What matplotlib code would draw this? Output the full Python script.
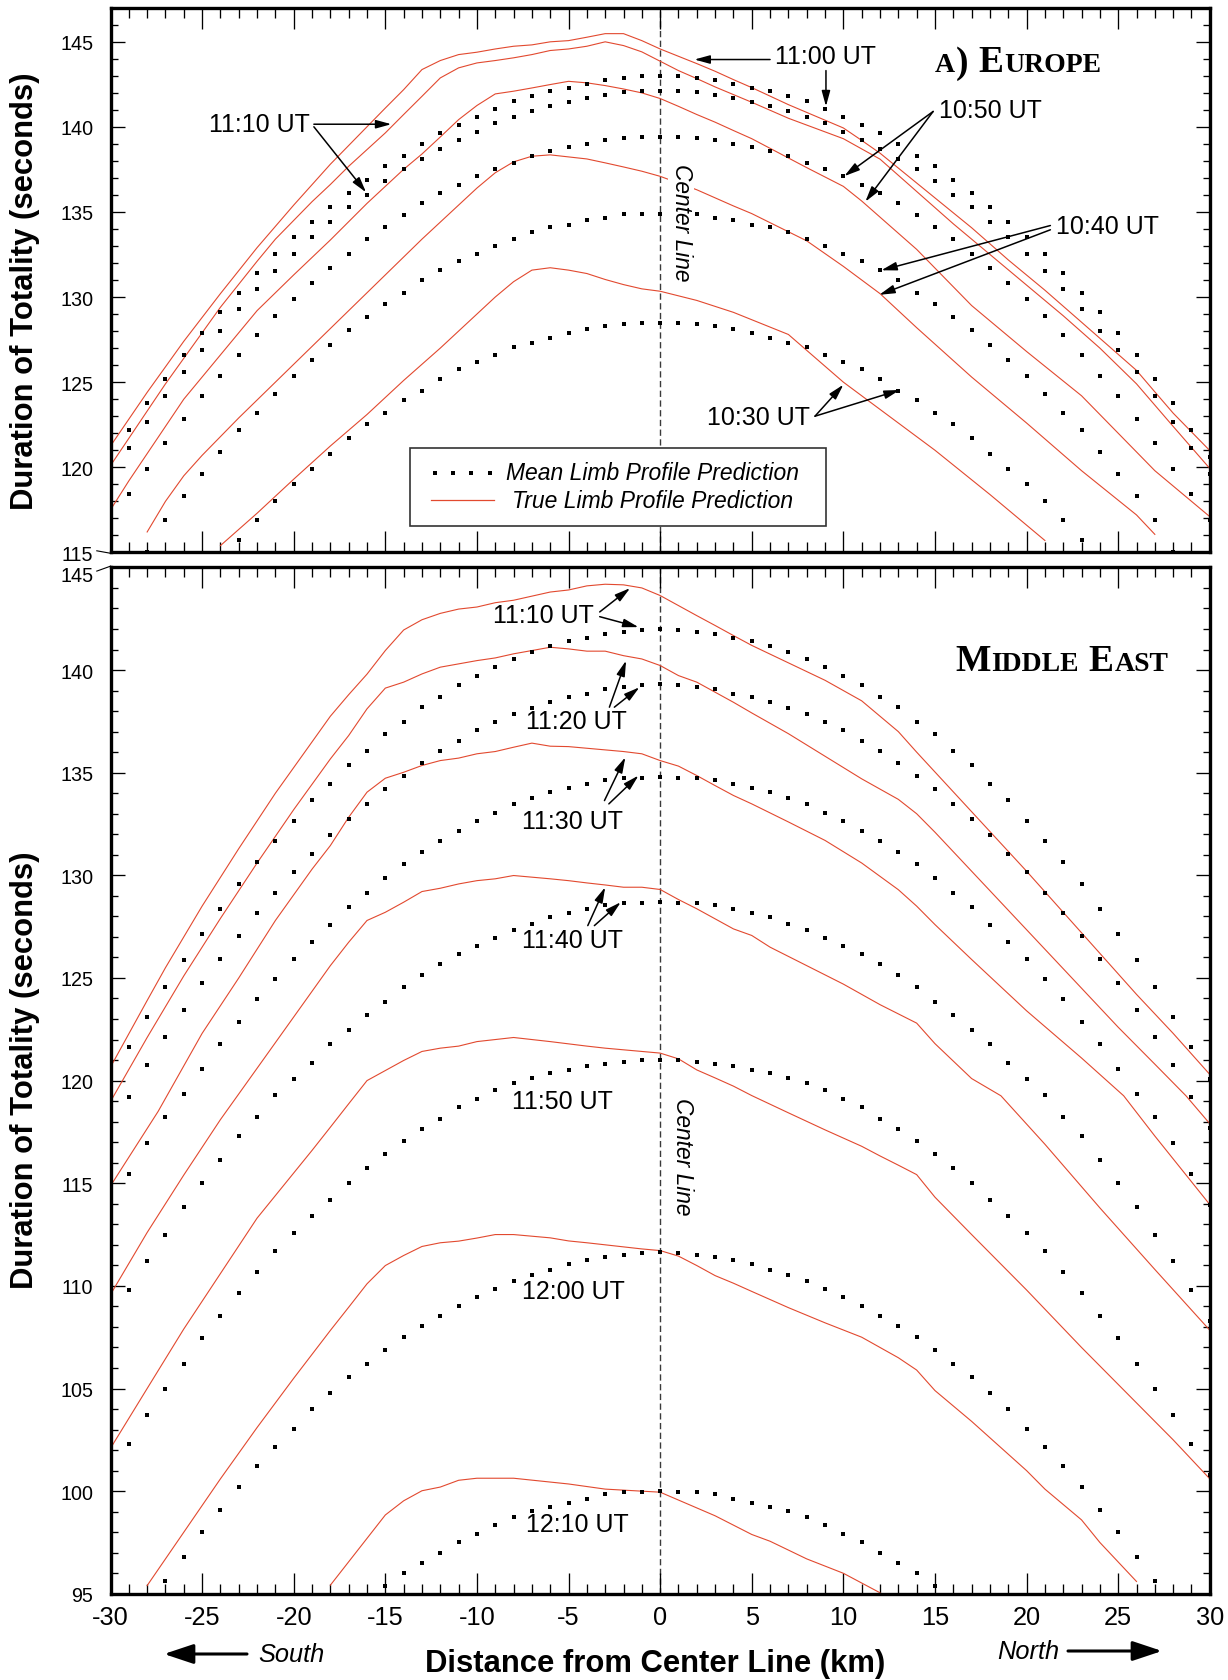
import matplotlib
matplotlib.use("Agg")
import matplotlib.pyplot as plt
import matplotlib.transforms as mtransforms
from matplotlib.ticker import MultipleLocator, FuncFormatter
from matplotlib.lines import Line2D
from matplotlib.patches import Rectangle, FancyArrowPatch

# ---------------------------------------------------------------- data
# Mean limb profile predictions (dots, one per km)
EU_1100_X = list(range(-30, 31))
EU_1100 = [120.6, 122.2, 123.8, 125.2, 126.6, 127.9, 129.1, 130.25, 131.4, 132.5,
           133.5, 134.4, 135.3, 136.1, 136.9, 137.7, 138.3, 139.0, 139.63, 140.12,
           140.6, 141.05, 141.5, 141.8, 142.1, 142.3, 142.5, 142.77, 142.87, 142.97,
           143.0,
           142.97, 142.87, 142.77, 142.5, 142.3, 142.1, 141.8, 141.5, 141.05, 140.6,
           140.12, 139.63, 139.0, 138.3, 137.7, 136.9, 136.1, 135.3, 134.4, 133.5,
           132.5, 131.4, 130.25, 129.1, 127.9, 126.6, 125.2, 123.8, 122.2, 120.6]
EU_1110_X = list(range(-30, 31))
EU_1110 = [119.6, 121.15, 122.65, 124.2, 125.6, 126.9, 128.0, 129.3, 130.5, 131.5,
           132.5, 133.5, 134.4, 135.3, 136.0, 136.8, 137.5, 138.1, 138.7, 139.2,
           139.7, 140.2, 140.6, 140.9, 141.2, 141.45, 141.7, 141.85, 142.05, 142.1,
           142.1,
           142.1, 142.05, 141.85, 141.7, 141.45, 141.2, 140.9, 140.6, 140.2, 139.7,
           139.2, 138.7, 138.1, 137.5, 136.8, 136.0, 135.3, 134.4, 133.5, 132.5,
           131.5, 130.5, 129.3, 128.0, 126.9, 125.6, 124.2, 122.65, 121.15, 119.6]
EU_1050_X = list(range(-30, 31))
EU_1050 = [116.9, 118.45, 119.9, 121.4, 122.85, 124.2, 125.35, 126.6, 127.75, 128.9,
           129.9, 130.8, 131.7, 132.55, 133.4, 134.1, 134.8, 135.5, 136.1, 136.6,
           137.1, 137.5, 137.9, 138.3, 138.6, 138.8, 139.0, 139.2, 139.35, 139.4,
           139.4,
           139.4, 139.35, 139.2, 139.0, 138.8, 138.6, 138.3, 137.9, 137.5, 137.1,
           136.6, 136.1, 135.5, 134.8, 134.1, 133.4, 132.55, 131.7, 130.8, 129.9,
           128.9, 127.75, 126.6, 125.35, 124.2, 122.85, 121.4, 119.9, 118.45, 116.9]
EU_1040_X = list(range(-28, 29))
EU_1040 = [115.05, 116.9, 118.3, 119.6, 120.9, 122.2, 123.2, 124.3, 125.35, 126.3,
           127.2, 128.05, 128.85, 129.6, 130.25, 131.0, 131.6, 132.1, 132.55, 133.0,
           133.4, 133.8, 134.1, 134.25, 134.5, 134.65, 134.85, 134.9,
           134.9,
           134.9, 134.85, 134.65, 134.5, 134.25, 134.1, 133.8, 133.4, 133.0, 132.55,
           132.1, 131.6, 131.0, 130.25, 129.6, 128.85, 128.05, 127.2, 126.3, 125.35,
           124.3, 123.2, 122.2, 120.9, 119.6, 118.3, 116.9, 115.05]
EU_1030_X = list(range(-23, 24))
EU_1030 = [115.7, 116.9, 118.0, 119.0, 119.9, 120.8, 121.7, 122.55, 123.2, 123.95,
           124.5, 125.2, 125.8, 126.2, 126.6, 127.05, 127.3, 127.6, 127.9, 128.15,
           128.3, 128.4, 128.45,
           128.5,
           128.45, 128.4, 128.3, 128.15, 127.9, 127.6, 127.3, 127.05, 126.6, 126.2,
           125.8, 125.2, 124.5, 123.95, 123.2, 122.55, 121.7, 120.8, 119.9, 119.0,
           118.0, 116.9, 115.7]

ME_1110_X = list(range(-30, 31))
ME_1110 = [120.1, 121.66, 123.12, 124.55, 125.89, 127.15, 128.36, 129.56, 130.66, 131.65,
           132.65, 133.69, 134.45, 135.39, 136.06, 136.9, 137.46, 138.19, 138.7, 139.27,
           139.7, 140.16, 140.56, 140.9, 141.19, 141.41, 141.57, 141.76, 141.86, 141.97,
           142.0,
           141.97, 141.86, 141.76, 141.57, 141.41, 141.19, 140.9, 140.56, 140.16, 139.7,
           139.27, 138.7, 138.19, 137.46, 136.9, 136.06, 135.39, 134.45, 133.69, 132.65,
           131.65, 130.66, 129.56, 128.36, 127.15, 125.89, 124.55, 123.12, 121.66, 120.1]
ME_1120_X = list(range(-30, 31))
ME_1120 = [117.7, 119.22, 120.75, 122.1, 123.44, 124.75, 125.91, 127.05, 128.15, 129.15,
           130.16, 131.04, 131.95, 132.75, 133.49, 134.19, 134.85, 135.45, 136.06, 136.55,
           137.1, 137.46, 137.86, 138.16, 138.46, 138.7, 138.84, 139.06, 139.18, 139.29,
           139.3,
           139.29, 139.18, 139.06, 138.84, 138.7, 138.46, 138.16, 137.86, 137.46, 137.1,
           136.55, 136.06, 135.45, 134.85, 134.19, 133.49, 132.75, 131.95, 131.04, 130.16,
           129.15, 128.15, 127.05, 125.91, 124.75, 123.44, 122.1, 120.75, 119.22, 117.7]
ME_1130_X = list(range(-30, 31))
ME_1130 = [113.95, 115.45, 116.95, 118.25, 119.35, 120.56, 121.76, 122.85, 123.96, 124.95,
           125.91, 126.75, 127.6, 128.45, 129.15, 129.86, 130.55, 131.15, 131.65, 132.16,
           132.65, 133.06, 133.46, 133.79, 134.06, 134.26, 134.44, 134.65, 134.74, 134.76,
           134.77,
           134.76, 134.74, 134.65, 134.44, 134.26, 134.06, 133.79, 133.46, 133.06, 132.65,
           132.16, 131.65, 131.15, 130.55, 129.86, 129.15, 128.45, 127.6, 126.75, 125.91,
           124.95, 123.96, 122.85, 121.76, 120.56, 119.35, 118.25, 116.95, 115.45, 113.95]
ME_1140_X = list(range(-30, 31))
ME_1140 = [108.3, 109.8, 111.2, 112.5, 113.85, 115.0, 116.15, 117.3, 118.25, 119.3,
           120.09, 120.85, 121.79, 122.46, 123.21, 123.84, 124.56, 125.15, 125.66, 126.15,
           126.55, 126.94, 127.36, 127.64, 127.99, 128.15, 128.36, 128.55, 128.66, 128.67,
           128.7,
           128.67, 128.66, 128.55, 128.36, 128.15, 127.99, 127.64, 127.36, 126.94, 126.55,
           126.15, 125.66, 125.15, 124.56, 123.84, 123.21, 122.46, 121.79, 120.85, 120.09,
           119.3, 118.25, 117.3, 116.15, 115.0, 113.85, 112.5, 111.2, 109.8, 108.3]
ME_1150_X = list(range(-30, 31))
ME_1150 = [100.8, 102.28, 103.69, 105.0, 106.2, 107.48, 108.54, 109.66, 110.66, 111.7,
           112.56, 113.4, 114.2, 115.0, 115.74, 116.42, 117.05, 117.65, 118.15, 118.7,
           119.12, 119.55, 119.88, 120.12, 120.36, 120.54, 120.7, 120.8, 120.92, 121.0,
           121.0,
           121.0, 120.92, 120.8, 120.7, 120.54, 120.36, 120.12, 119.88, 119.55, 119.12,
           118.7, 118.15, 117.65, 117.05, 116.42, 115.74, 115.0, 114.2, 113.4, 112.56,
           111.7, 110.66, 109.66, 108.54, 107.48, 106.2, 105.0, 103.69, 102.28, 100.8]
ME_1200_X = list(range(-27, 28))
ME_1200 = [95.6, 96.8, 98.0, 99.1, 100.2, 101.25, 102.17, 103.05, 104.0, 104.8,
           105.55, 106.2, 106.9, 107.5, 108.05, 108.55, 109.02, 109.47, 109.85, 110.25,
           110.55, 110.75, 111.05, 111.28, 111.4, 111.5, 111.6,
           111.65,
           111.6, 111.5, 111.4, 111.28, 111.05, 110.75, 110.55, 110.25, 109.85, 109.47,
           109.02, 108.55, 108.05, 107.5, 106.9, 106.2, 105.55, 104.8, 104.0, 103.05,
           102.17, 101.25, 100.2, 99.1, 98.0, 96.8, 95.6]
ME_1210_X = list(range(-15, 16))
ME_1210 = [95.4, 96.0, 96.5, 97.0, 97.52, 97.9, 98.33, 98.75, 99.05, 99.22, 99.4, 99.6,
           99.87, 99.95, 99.96,
           100.0,
           99.96, 99.95, 99.87, 99.6, 99.4, 99.22, 99.05, 98.75, 98.33, 97.9, 97.52, 97.0,
           96.5, 96.0, 95.4]

# True limb profile predictions (red polylines)
EU_T1100_X = [-30, -28, -26, -24, -22, -20, -18, -16, -15, -14, -13, -12, -11, -10, -9, -8, -7, -6,
              -5, -4, -3, -2, -1, 0, 1, 2, 3, 4, 5, 7, 10, 11, 12, 17, 19, 21, 23, 26, 27, 28, 30]
EU_T1100 = [121.25, 124.4, 127.4, 130.2, 132.9, 135.4, 137.8, 140.0, 141.1, 142.18, 143.36,
            143.89, 144.24, 144.38, 144.57, 144.73, 144.81, 144.99, 145.06, 145.26, 145.47,
            145.47, 145.06, 144.57, 144.14, 143.71, 143.26, 142.77, 142.3, 141.3, 139.93,
            139.2, 138.45, 134.07, 132.18, 130.4, 128.52, 125.69, 124.43, 123.18, 120.98]
EU_T1110_X = [-30, -27, -24, -22, -21, -19, -18, -17, -16, -15, -14, -13, -12, -11, -10, -9, -8,
              -7, -6, -5, -4, -3, -2, -1, 0, 1, 2, 3, 4, 5, 7, 10, 12, 14, 16, 18, 20, 22, 24,
              26, 28, 30]
EU_T1110 = [120.1, 124.9, 129.4, 132.1, 133.4, 135.6, 136.61, 137.68, 138.66, 139.64, 140.72,
            141.79, 142.87, 143.46, 143.75, 143.89, 144.05, 144.24, 144.48, 144.57, 144.73,
            144.99, 144.77, 144.4, 143.85, 143.3, 142.83, 142.34, 141.89, 141.44, 140.5,
            139.3, 138.1, 136.2, 134.3, 132.5, 130.7, 128.9, 127.0, 124.9, 122.4, 119.93]
EU_T1050_X = [-30, -29, -27, -26, -24, -22, -20, -18, -16, -14, -13, -12, -11, -10, -9, -8, -7,
              -6, -5, -4, -3, -2, -1, 0, 1, 2, 3, 4, 5, 8, 10, 11, 14, 17, 20, 23, 26, 27, 30]
EU_T1050 = [117.5, 119.2, 122.4, 124.0, 126.6, 129.2, 131.3, 133.35, 135.5, 137.5, 138.4,
            139.4, 140.42, 141.25, 141.93, 142.09, 142.28, 142.48, 142.67, 142.58, 142.42,
            142.22, 141.99, 141.66, 141.2, 140.72, 140.27, 139.78, 139.3, 137.6, 136.5,
            135.64, 132.8, 129.5, 126.8, 124.2, 120.9, 119.8, 117.1]
EU_T1040_X = [-28, -27, -26, -25, -24, -23, -21, -19, -17, -15, -13, -11, -10, -9, -8, -7, -6,
              -5, -4, -3, -2, -1, 0, 2, 4, 5, 8, 10, 12, 14, 17, 20, 23, 26, 27]
EU_T1040 = [116.2, 118.0, 119.5, 120.7, 121.8, 122.9, 125.0, 127.1, 129.2, 131.3, 133.4,
            135.4, 136.4, 137.3, 137.94, 138.27, 138.35, 138.23, 138.11, 137.88, 137.64,
            137.39, 137.09, 136.3, 135.35, 134.9, 133.3, 131.8, 130.2, 128.2, 125.3, 122.6,
            119.8, 117.2, 116.06]
EU_T1030_X = [-24, -22, -20, -18, -16, -14, -12, -10, -9, -8, -7, -6, -5, -4, -3, -2, -1, 0, 2,
              4, 7, 10, 12, 15, 18, 20, 21]
EU_T1030 = [115.4, 117.3, 119.3, 121.25, 123.1, 125.1, 127.0, 129.0, 130.0, 130.9, 131.58,
            131.72, 131.58, 131.38, 131.03, 130.73, 130.48, 130.34, 129.8, 129.1, 127.8,
            125.0, 123.4, 121.0, 118.4, 116.6, 115.7]

ME_T1110_X = [-30, -28, -27, -25, -23, -21, -19, -18, -17, -16, -15, -14, -13, -12, -11, -10,
              -9, -8, -7, -6, -5, -4, -3, -2, -1, 0, 1, 2, 3, 4, 5, 7, 9, 11, 13, 14, 17, 20,
              23, 26, 28, 30]
ME_T1110 = [120.66, 123.9, 125.5, 128.5, 131.3, 134.0, 136.5, 137.75, 138.8, 139.8, 140.95,
            141.95, 142.45, 142.76, 142.97, 143.07, 143.28, 143.4, 143.6, 143.8, 143.9, 144.1,
            144.18, 144.15, 144.0, 143.63, 143.14, 142.65, 142.17, 141.68, 141.2, 140.35,
            139.5, 138.5, 137.0, 136.0, 133.1, 130.2, 127.2, 124.2, 122.3, 120.3]
ME_T1120_X = [-30, -28, -26, -24, -22, -20, -18, -17, -16, -15, -14, -13, -12, -11, -10, -9,
              -8, -7, -6, -5, -4, -3, -2, -1, 0, 1, 2, 3, 4, 5, 7, 9, 11, 13, 14, 15, 17, 19,
              21, 23, 25, 27, 28.7, 30]
ME_T1120 = [118.98, 122.1, 125.1, 127.9, 130.6, 133.2, 135.67, 136.81, 138.11, 139.12,
            139.41, 139.81, 140.14, 140.3, 140.46, 140.59, 140.79, 140.95, 141.11, 141.03,
            140.92, 140.92, 140.7, 140.54, 140.22, 139.73, 139.41, 138.92, 138.43, 137.91,
            136.9, 135.8, 134.7, 133.7, 133.0, 132.1, 130.2, 128.3, 126.4, 124.5, 122.6,
            120.8, 119.26, 117.9]
ME_T1130_X = [-30, -27.4, -25, -23, -21, -19, -18, -17, -16, -15, -14, -13, -12, -11, -10, -9,
              -8, -7, -6, -5, -4, -3, -2, -1, 0, 1, 2, 3, 4, 5, 7, 9, 11, 13, 14, 15, 17, 20,
              23, 25.3, 27, 30]
ME_T1130 = [114.87, 118.5, 122.3, 125.0, 127.8, 130.3, 131.45, 132.83, 134.05, 134.73,
            135.02, 135.35, 135.59, 135.71, 135.92, 136.03, 136.24, 136.44, 136.29, 136.27,
            136.19, 136.11, 136.03, 135.92, 135.59, 135.32, 134.86, 134.37, 133.89, 133.48,
            132.6, 131.7, 130.6, 129.3, 128.5, 127.6, 125.9, 123.4, 121.1, 119.26, 117.3,
            113.96]
ME_T1140_X = [-30, -28, -26, -24, -22, -20, -18, -17, -16, -15, -14, -13, -12, -11, -10, -9,
              -8, -7, -6, -5, -4, -3, -2, -1, 0, 1, 2, 3, 4, 5, 6, 8, 10, 12, 14, 15, 17, 18.6,
              21, 24, 27, 30]
ME_T1140 = [109.58, 112.6, 115.4, 118.1, 120.6, 123.1, 125.6, 126.74, 127.8, 128.2, 128.69,
            129.21, 129.37, 129.58, 129.74, 129.83, 129.99, 129.91, 129.83, 129.74, 129.63,
            129.53, 129.42, 129.42, 129.31, 128.82, 128.37, 127.88, 127.39, 127.07, 126.5,
            125.6, 124.7, 123.7, 122.8, 121.8, 120.1, 119.26, 116.9, 113.8, 110.8, 107.84]
ME_T1150_X = [-30, -28, -26, -24, -22, -20, -19, -18, -17, -16, -15, -14, -13, -12, -11, -10,
              -9, -8, -7, -6, -5, -4, -3, -2, -1, 0, 1, 2, 3, 4, 5, 7, 9, 11, 12, 13, 14, 15,
              17, 20, 23, 26, 28, 30]
ME_T1150 = [102.09, 105.0, 107.9, 110.6, 113.3, 115.5, 116.6, 117.73, 118.87, 120.0, 120.49,
            120.98, 121.42, 121.58, 121.68, 121.9, 122.0, 122.1, 122.0, 121.9, 121.79, 121.68,
            121.58, 121.5, 121.42, 121.34, 121.06, 120.52, 120.13, 119.73, 119.27, 118.43,
            117.6, 116.8, 116.33, 115.88, 115.42, 114.32, 112.5, 109.8, 107.0, 104.3, 102.5,
            100.6]
ME_T1200_X = [-28, -26, -24, -22, -20, -18, -17, -16, -15, -14, -13, -12, -11, -10, -9, -8, -7,
              -6, -5, -4, -3, -2, -1, 0, 1, 2, 3, 4, 5, 7, 9, 11, 13, 14, 15, 17, 19, 20, 21,
              23, 24, 26]
ME_T1200 = [95.4, 98.0, 100.6, 103.1, 105.5, 107.83, 108.96, 110.1, 110.99, 111.48, 111.92,
            112.1, 112.18, 112.33, 112.5, 112.5, 112.42, 112.34, 112.19, 112.1, 112.0, 111.9,
            111.8, 111.72, 111.45, 110.99, 110.5, 110.13, 109.73, 108.94, 108.2, 107.5, 106.5,
            105.9, 104.9, 103.4, 101.8, 101.0, 100.1, 98.6, 97.5, 95.6]
ME_T1210_X = [-18, -15, -14, -13, -12, -11, -10, -8, -5, -3, 0, 3, 5, 6, 8, 10, 12]
ME_T1210 = [95.42, 98.84, 99.53, 100.02, 100.2, 100.53, 100.63, 100.63, 100.35, 100.1, 99.95,
            98.8, 97.89, 97.56, 96.7, 96.0, 95.05]

EU_MEAN = [(EU_1100_X, EU_1100), (EU_1110_X, EU_1110), (EU_1050_X, EU_1050),
           (EU_1040_X, EU_1040), (EU_1030_X, EU_1030)]
EU_TRUE = [(EU_T1100_X, EU_T1100), (EU_T1110_X, EU_T1110), (EU_T1050_X, EU_T1050),
           (EU_T1040_X, EU_T1040), (EU_T1030_X, EU_T1030)]
ME_MEAN = [(ME_1110_X, ME_1110), (ME_1120_X, ME_1120), (ME_1130_X, ME_1130),
           (ME_1140_X, ME_1140), (ME_1150_X, ME_1150), (ME_1200_X, ME_1200),
           (ME_1210_X, ME_1210)]
ME_TRUE = [(ME_T1110_X, ME_T1110), (ME_T1120_X, ME_T1120), (ME_T1130_X, ME_T1130),
           (ME_T1140_X, ME_T1140), (ME_T1150_X, ME_T1150), (ME_T1200_X, ME_T1200),
           (ME_T1210_X, ME_T1210)]
for xs, ys in EU_MEAN + EU_TRUE + ME_MEAN + ME_TRUE:
    assert len(xs) == len(ys), (len(xs), len(ys))

X_TICKS = list(range(-30, 31, 5))
EU_YLIM = (115, 147)
ME_YLIM = (95, 145)

# ---------------------------------------------------------------- style
W, H = 1228, 1681
plt.rcParams['font.family'] = ['Liberation Sans', 'DejaVu Sans']
plt.rcParams['axes.unicode_minus'] = False
RED = '#E2492F'
SANS = 'Liberation Sans'
SERIF = 'Liberation Serif'
DOT_MS = 2.2

fig = plt.figure(figsize=(W / 100, H / 100), dpi=100)
fig.patch.set_facecolor('white')


def fx(px):
    return px / W


def fy(py):
    return 1 - py / H


ax1 = fig.add_axes([fx(110.5), fy(553.4), (1209.8 - 110.5) / W, (553.4 - 8.6) / H])
ax2 = fig.add_axes([fx(110.5), fy(1594.8), (1209.8 - 110.5) / W, (1594.8 - 568.4) / H])

for ax, ylim in ((ax1, EU_YLIM), (ax2, ME_YLIM)):
    ax.set_xlim(-30, 30)
    ax.set_ylim(*ylim)
    ax.xaxis.set_major_locator(MultipleLocator(5))
    ax.xaxis.set_minor_locator(MultipleLocator(1))
    ax.yaxis.set_major_locator(MultipleLocator(5))
    ax.yaxis.set_minor_locator(MultipleLocator(1))
    for sp in ax.spines.values():
        sp.set_linewidth(2.4)
        sp.set_zorder(10)
    ax.tick_params(axis='x', which='major', direction='in', length=15, width=0.95,
                   top=True, bottom=True, labelsize=18.3, pad=8)
    ax.tick_params(axis='x', which='minor', direction='in', length=7.2, width=0.95,
                   top=True, bottom=True)
    ax.tick_params(axis='y', which='major', direction='in', length=10, width=0.95,
                   left=True, right=True, labelsize=14.2, pad=12.3)
    ax.tick_params(axis='y', which='minor', direction='in', length=5, width=0.95,
                   left=True, right=True)
    ax.axvline(0, color='#3a3a3a', lw=1.0, ls=(0, (4.5, 2.5)), zorder=1)

ax1.tick_params(axis='x', labelbottom=False)
ax2.set_xticks(X_TICKS)
ax2.yaxis.set_major_formatter(FuncFormatter(lambda v, p: '' if v >= 144.9 else '%d' % v))

# data
for ax, means, trues in ((ax1, EU_MEAN, EU_TRUE), (ax2, ME_MEAN, ME_TRUE)):
    for xs, ys in trues:
        ax.plot(xs, ys, color=RED, lw=0.8, zorder=2, solid_joinstyle='miter')
    for xs, ys in means:
        ax.plot(xs, ys, ls='none', marker='s', ms=DOT_MS, mew=0, color='black', zorder=3,
                antialiased=False)

# ---------------------------------------------------------------- annotations
TXT = dict(fontsize=18, family=SANS, color='black', zorder=6)


def arrow(ax, start, tip):
    ax.annotate('', xy=tip, xytext=start,
                arrowprops=dict(arrowstyle='-|>,head_length=0.62,head_width=0.17',
                                color='black', lw=1.1, shrinkA=0, shrinkB=0,
                                mutation_scale=15), zorder=6)


# Europe panel
ax1.text(-21.85, 140.15, '11:10 UT', ha='center', va='center', **TXT)
arrow(ax1, (-18.9, 140.15), (-14.67, 140.15))
arrow(ax1, (-18.9, 140.0), (-16.05, 136.15))
ax1.text(9.0, 144.15, '11:00 UT', ha='center', va='center', **TXT)
arrow(ax1, (6.0, 143.95), (1.87, 143.95))
arrow(ax1, (9.05, 143.3), (9.05, 141.2))
ax1.text(18.05, 140.96, '10:50 UT', ha='center', va='center', **TXT)
arrow(ax1, (14.9, 140.9), (10.05, 137.1))
arrow(ax1, (14.9, 140.9), (11.2, 135.6))
ax1.text(24.4, 134.2, '10:40 UT', ha='center', va='center', **TXT)
arrow(ax1, (21.3, 134.2), (12.07, 131.57))
arrow(ax1, (21.3, 133.95), (11.96, 130.13))
ax1.text(5.35, 122.93, '10:30 UT', ha='center', va='center', **TXT)
arrow(ax1, (8.45, 123.0), (10.0, 124.85))
arrow(ax1, (8.45, 123.0), (13.08, 124.54))
ax1.text(1.15, 134.4, 'Center Line', rotation=-90, ha='center', va='center',
         fontsize=16.4, style='italic', family=SANS, zorder=5,
         bbox=dict(facecolor='white', edgecolor='none', pad=1.0))

# Middle East panel
ax2.text(-6.36, 142.7, '11:10 UT', ha='center', va='center', **TXT)
arrow(ax2, (-3.3, 142.83), (-1.64, 143.99))
arrow(ax2, (-3.3, 142.6), (-1.18, 142.09))
ax2.text(-4.59, 137.5, '11:20 UT', ha='center', va='center', **TXT)
arrow(ax2, (-2.77, 138.19), (-1.86, 140.46))
arrow(ax2, (-2.5, 138.19), (-1.13, 139.16))
ax2.text(-4.77, 132.63, '11:30 UT', ha='center', va='center', **TXT)
arrow(ax2, (-3.04, 133.64), (-1.9, 135.75))
arrow(ax2, (-2.8, 133.48), (-1.18, 134.86))
ax2.text(-4.77, 126.87, '11:40 UT', ha='center', va='center', **TXT)
arrow(ax2, (-3.95, 127.55), (-3.0, 129.42))
arrow(ax2, (-3.59, 127.55), (-2.15, 128.69))
ax2.text(-5.36, 119.0, '11:50 UT', ha='center', va='center', **TXT)
ax2.text(-4.72, 109.74, '12:00 UT', ha='center', va='center', **TXT)
ax2.text(-4.5, 98.41, '12:10 UT', ha='center', va='center', **TXT)
ax2.text(1.2, 116.35, 'Center Line', rotation=-90, ha='center', va='center',
         fontsize=16.4, style='italic', family=SANS, zorder=5,
         bbox=dict(facecolor='white', edgecolor='none', pad=1.0))

# small-caps panel titles
fig.canvas.draw()
renderer = fig.canvas.get_renderer()


def smallcaps(ax, x, y, parts):
    dx = 0.0
    for s, size in parts:
        if s == ' ':
            dx += 0.25 * size * 100 / 72.0
            continue
        tr = mtransforms.offset_copy(ax.transData, fig=fig, x=dx, y=0, units='dots')
        t = ax.text(x, y, s, transform=tr, fontsize=size, family=SERIF,
                    weight='bold', ha='left', va='baseline', zorder=6)
        dx += t.get_window_extent(renderer).width + 0.6


BIG, SMALL = 27, 20
smallcaps(ax1, 15.0, 143.25, [('A', SMALL), (')', BIG), (' ', BIG), ('E', BIG), ('UROPE', SMALL)])
smallcaps(ax2, 16.1, 140.0, [('M', BIG), ('IDDLE', SMALL), (' ', BIG), ('E', BIG), ('AST', SMALL)])

# legend (drawn by hand in the Europe panel)
ax1.add_patch(Rectangle((-13.64, 116.58), 22.7, 4.57, facecolor='white',
                        edgecolor='#333333', lw=1.2, zorder=7))
ax1.plot([-12.31, -11.31, -10.31, -9.31], [119.68] * 4, ls='none', marker='s', ms=DOT_MS,
         mew=0, color='black', zorder=8, antialiased=False)
ax1.plot([-12.5, -9.05], [118.05, 118.05], color=RED, lw=0.9, zorder=8)
ax1.text(-0.4, 119.68, 'Mean Limb Profile Prediction', ha='center', va='center',
         fontsize=16.5, style='italic', family=SANS, zorder=8)
ax1.text(-0.4, 118.05, 'True Limb Profile Prediction', ha='center', va='center',
         fontsize=16.5, style='italic', family=SANS, zorder=8)

# special tick labels with leader lines
fig.add_artist(Line2D([fx(96.8), fx(110.7)], [fy(551.8), fy(554.3)], color='black', lw=0.8))
fig.text(fx(93.5), fy(576.8), '145', ha='right', va='center', fontsize=14.2, family=SANS)
fig.add_artist(Line2D([fx(96.8), fx(110.7)], [fy(572.1), fy(567.1)], color='black', lw=0.8))

# axis labels
LAB = dict(fontsize=22.3, weight='bold', family=SANS)
fig.text(fx(25), fy(291.2), 'Duration of Totality (seconds)', rotation=90,
         ha='center', va='center', **LAB)
fig.text(fx(25), fy(1069.8), 'Duration of Totality (seconds)', rotation=90,
         ha='center', va='center', **LAB)
fig.text(fx(655), fy(1664), 'Distance from Center Line (km)', ha='center', va='center', **LAB)
fig.text(fx(291), fy(1655), 'South', ha='center', va='center', fontsize=18.3,
         style='italic', family=SANS)
fig.text(fx(1028.5), fy(1651.7), 'North', ha='center', va='center', fontsize=18.3,
         style='italic', family=SANS)
BIGARROW = dict(arrowstyle='-|>,head_length=0.9,head_width=0.3', color='black', lw=2.2,
                shrinkA=0, shrinkB=0, mutation_scale=20)
fig.add_artist(FancyArrowPatch((fx(247), fy(1655)), (fx(164), fy(1655)),
                               transform=fig.transFigure, **BIGARROW))
fig.add_artist(FancyArrowPatch((fx(1068), fy(1652)), (fx(1162), fy(1652)),
                               transform=fig.transFigure, **BIGARROW))

fig.savefig('out.png', dpi=100, facecolor='white')
